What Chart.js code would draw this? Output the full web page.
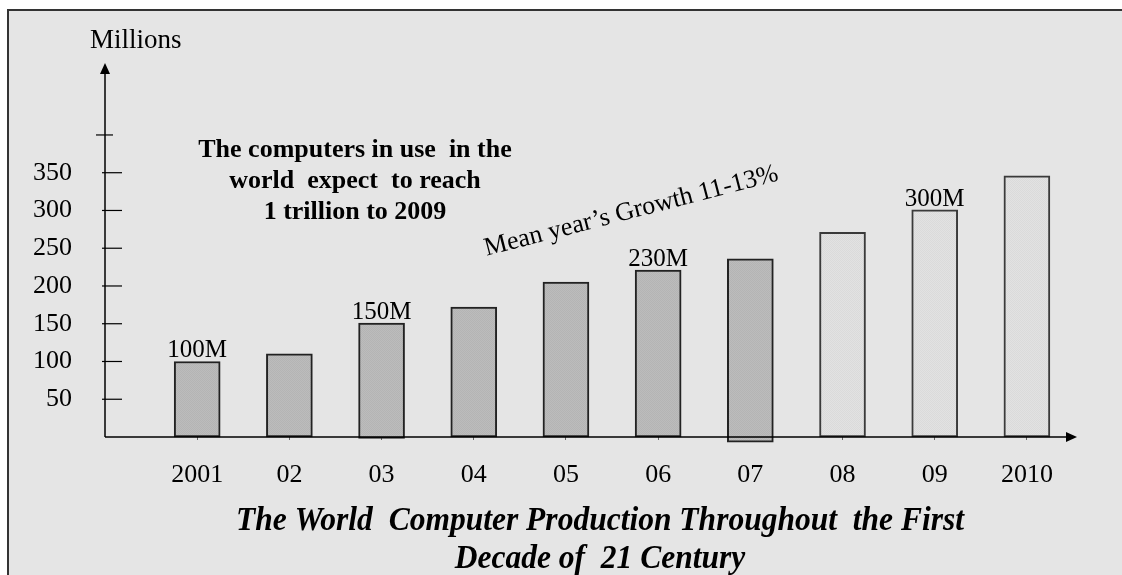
<!DOCTYPE html>
<html>
<head>
<meta charset="utf-8">
<script src="https://cdn.jsdelivr.net/npm/chart.js@4"></script>
<style>
  html, body { margin: 0; padding: 0; background: #ffffff; }
  #wrap { width: 1122px; height: 575px; }
</style>
</head>
<body>
<div id="wrap"><canvas id="grafico"></canvas></div>
<script>
// dados (milhoes de computadores)
const anos = ['2001', '02', '03', '04', '05', '06', '07', '08', '09', '2010'];
const valores = [100, 110, 151, 172, 205, 221, 236, 271, 301, 346];
const bases = [0, 0, -2, 0, 0, 0, -7, 0, 0, 0];
const rotulosBarra = ['100M', '', '150M', '', '', '230M', '', '', '300M', ''];
const ticksY = [50, 100, 150, 200, 250, 300, 350];
const tickExtraY = 400;
const primeiroPrevisto = 7;

const fonte = '"Liberation Serif", "Times New Roman", serif';

function padrao(c1, c2) {
    const p = document.createElement('canvas');
    p.width = 2; p.height = 2;
    const g = p.getContext('2d');
    g.fillStyle = c1; g.fillRect(0, 0, 2, 2);
    g.fillStyle = c2; g.fillRect(0, 0, 1, 1); g.fillRect(1, 1, 1, 1);
    return g.createPattern(p, 'repeat');
}

const ctx = document.getElementById('grafico');
const padraoEscuro = padrao('#bcbcbc', '#b4b4b4');
const padraoClaro = padrao('#e2e2e2', '#dadada');

const desenhos = {
    id: 'desenhos',
    beforeDraw(chart) {
        const c = chart.ctx;
        c.save();
        c.fillStyle = '#ffffff';
        c.fillRect(0, 0, chart.width, chart.height);
        c.fillStyle = '#e5e5e5';
        c.fillRect(8, 10, chart.width - 8, chart.height - 10);
        c.strokeStyle = '#333333';
        c.lineWidth = 2;
        c.beginPath();
        c.moveTo(8, chart.height);
        c.lineTo(8, 10);
        c.lineTo(chart.width, 10);
        c.stroke();
        c.restore();
    },
    afterDraw(chart) {
        const c = chart.ctx;
        const a = chart.chartArea;
        const y = chart.scales.y;
        c.save();
        c.strokeStyle = '#000';
        c.fillStyle = '#000';
        c.lineWidth = 1.5;

        // eixo y com seta
        c.beginPath();
        c.moveTo(a.left, a.bottom);
        c.lineTo(a.left, 72);
        c.stroke();
        c.beginPath();
        c.moveTo(a.left, 63);
        c.lineTo(a.left - 5, 74);
        c.lineTo(a.left + 5, 74);
        c.closePath();
        c.fill();

        // eixo x com seta
        c.beginPath();
        c.moveTo(a.left, a.bottom);
        c.lineTo(1068, a.bottom);
        c.stroke();
        c.beginPath();
        c.moveTo(1077, a.bottom);
        c.lineTo(1066, a.bottom - 5);
        c.lineTo(1066, a.bottom + 5);
        c.closePath();
        c.fill();

        // marcas do eixo y
        c.lineWidth = 1.2;
        ticksY.forEach(v => {
            const py = y.getPixelForValue(v);
            c.beginPath();
            c.moveTo(a.left - 3, py);
            c.lineTo(a.left + 17, py);
            c.stroke();
        });
        const pe = y.getPixelForValue(tickExtraY);
        c.beginPath();
        c.moveTo(a.left - 9, pe);
        c.lineTo(a.left + 8, pe);
        c.stroke();

        // textos
        c.textAlign = 'left';
        c.textBaseline = 'alphabetic';
        c.font = '27px ' + fonte;
        c.fillText('Millions', 90, 48);

        c.textAlign = 'center';
        c.font = 'bold 26px ' + fonte;
        c.fillText('The computers in use  in the', 355, 157);
        c.fillText('world  expect  to reach', 355, 188);
        c.fillText('1 trillion to 2009', 355, 219);

        c.save();
        c.font = '26px ' + fonte;
        c.translate(633, 218);
        c.rotate(-14.5 * Math.PI / 180);
        c.fillText('Mean year\u2019s Growth 11-13%', 0, 0);
        c.restore();

        // rotulos das barras
        c.font = '25px ' + fonte;
        const meta = chart.getDatasetMeta(0);
        meta.data.forEach((barra, i) => {
            if (rotulosBarra[i]) {
                c.fillText(rotulosBarra[i], barra.x, barra.y - 4);
            }
        });

        // titulo
        c.font = 'italic bold 34px ' + fonte;
        const l1 = 'The World  Computer Production Throughout  the First';
        const l2 = 'Decade of  21 Century';
        const sx = 728 / c.measureText(l1).width;
        c.save();
        c.translate(600, 0);
        c.scale(sx, 1);
        c.fillText(l1, 0, 530);
        c.fillText(l2, 0, 568);
        c.restore();

        c.restore();
    }
};

new Chart(ctx, {
    type: 'bar',
    data: {
        datasets: [{
            data: anos.map((ano, i) => ({ x: i, y: [bases[i], valores[i]] })),
            backgroundColor: (c) => c.dataIndex < primeiroPrevisto ? padraoEscuro : padraoClaro,
            borderColor: (c) => c.dataIndex < primeiroPrevisto ? '#222222' : '#3a3a3a',
            borderWidth: 2,
            borderSkipped: false,
            barThickness: 46,
            clip: false
        }]
    },
    options: {
        responsive: true,
        maintainAspectRatio: false,
        animation: false,
        layout: {
            padding: { top: 67, left: 0, right: 49, bottom: 0 }
        },
        plugins: {
            legend: { display: false },
            tooltip: { enabled: false }
        },
        scales: {
            x: {
                type: 'linear',
                min: -1,
                max: 9.5,
                offset: false,
                afterFit: (s) => { s.height = 138; },
                border: { display: false },
                grid: {
                    display: true,
                    offset: false,
                    drawOnChartArea: false,
                    tickLength: 3,
                    color: (c) => (c.tick && c.tick.value >= 0 && c.tick.value <= 9) ? '#666' : 'rgba(0,0,0,0)'
                },
                ticks: {
                    stepSize: 1,
                    includeBounds: false,
                    autoSkip: false,
                    maxRotation: 0,
                    padding: 20,
                    color: '#000',
                    font: { family: fonte, size: 26 },
                    callback: (v) => anos[v] !== undefined ? anos[v] : ''
                }
            },
            y: {
                min: 0,
                max: 490,
                afterFit: (s) => { s.width = 105; },
                border: { display: false },
                grid: { display: false, drawTicks: false },
                ticks: {
                    stepSize: 50,
                    padding: 33,
                    color: '#000',
                    font: { family: fonte, size: 26 },
                    callback: (v) => ticksY.includes(v) ? v : ''
                }
            }
        }
    },
    plugins: [desenhos]
});
</script>
</body>
</html>
